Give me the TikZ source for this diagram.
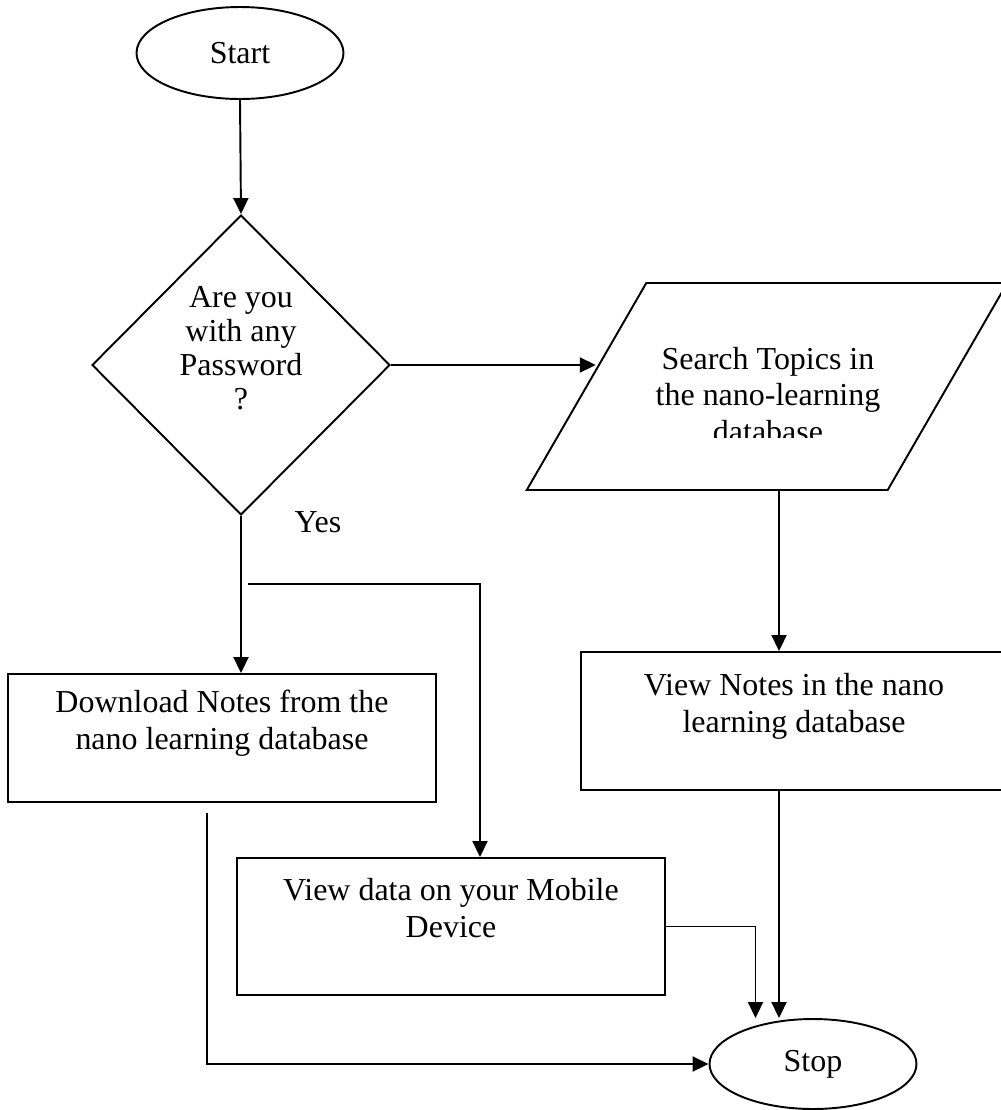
\documentclass[tikz,border=0pt]{standalone}
\usepackage{fontspec}
\setmainfont{Liberation Serif}
\usetikzlibrary{arrows.meta,shapes.geometric}

\begin{document}
\begin{tikzpicture}[
  x=0.02cm, y=-0.02cm,
  font=\fontsize{18.2}{21}\selectfont,
  line width=1.1pt,
  terminal/.style={draw, ellipse, minimum width=4.14cm, minimum height=1.84cm, inner sep=0pt},
  box/.style={draw, rectangle, align=center, inner sep=0pt},
  decision/.style={draw, diamond, align=center, inner sep=0pt, minimum width=5.96cm, minimum height=6cm, font=\fontsize{18.2}{19.3}\selectfont},
  io/.style={draw, trapezium, trapezium left angle=60, trapezium right angle=120, inner sep=0pt},
  arrow/.style={-{Triangle[length=0.32cm, width=0.3cm]}}
]
\useasboundingbox (0,0) rectangle (1001,1110);
\clip (0,0) rectangle (1001,1110);

\node[terminal] (start) at (240,53) {Start};
\node[decision] (ask) at (241,365) {Are you\\with any\\Password\\?\\\mbox{}};
\node[io] (search) at (767,386.5) {\rule{0pt}{4.14cm}\rule{4.83cm}{0pt}};
\begin{scope}
  \clip (500,283) rectangle (1001,437);
  \node[align=center] (searchtext) at (768,395) {Search Topics in\\the nano-learning\\database};
\end{scope}
\node[box, minimum width=8.52cm, minimum height=2.76cm] (notes) at (794,721)
  {View Notes in the nano\\learning database\\\mbox{}};
\node[box, minimum width=8.56cm, minimum height=2.56cm] (download) at (222,738)
  {Download Notes from the\\nano learning database\\\mbox{}};
\node[box, minimum width=8.57cm, minimum height=2.74cm] (mobile) at (451,926.5)
  {View data on your Mobile\\Device\\\mbox{}};
\node[terminal, minimum height=1.8cm] (stop) at (813,1064) {Stop};
\node (yes) at (318,522) {Yes};

\coordinate (n1) at ([xshift=-0.3cm]notes.north);
\coordinate (n2) at ([xshift=-1.15cm]stop.north);
\coordinate (m1) at ([xshift=0.58cm]mobile.north);
\coordinate (fork) at ([xshift=0.14cm,yshift=-1.36cm]ask.south);
\coordinate (d1) at ([xshift=-0.3cm,yshift=-0.2cm]download.south);

\draw[arrow] (start.south) -- (ask.north);
\draw[arrow] (ask.east) -- (ask.east -| search.174);
\draw[arrow] (n1 |- search.south) -- (n1);
\draw[arrow] (n1 |- notes.south) -- (n1 |- stop.north);
\draw[arrow] (ask.south) -- (ask.south |- download.north);
\draw[arrow] (fork) -| (m1);
\draw[arrow] (mobile.east) -| (n2);
\draw[arrow] (d1) |- (stop.west);

\end{tikzpicture}
\end{document}
